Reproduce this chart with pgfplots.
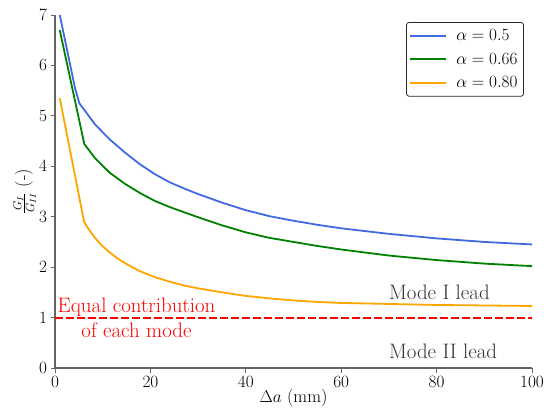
\documentclass[border=0pt]{standalone}
\usepackage{pgfplots}
\pgfplotsset{compat=1.18}
\definecolor{cblue}{RGB}{65,105,225}
\definecolor{cgreen}{RGB}{0,128,0}
\definecolor{corange}{RGB}{255,165,0}
\definecolor{spine}{RGB}{100,100,100}
\definecolor{cred}{RGB}{255,0,0}
\begin{document}
\begin{tikzpicture}
\begin{axis}[
  scale only axis,
  width=477bp, height=353bp,
  at={(0,0)}, anchor=south west,
  xmin=0, xmax=100, ymin=0, ymax=7,
  axis x line*=bottom, axis y line*=left,
  axis line style={spine, line width=1.4pt},
  tick align=outside,
  major tick length=4.5bp,
  tick style={spine, line width=1pt},
  xtick={0,20,40,60,80,100},
  ytick={0,1,2,3,4,5,6,7},
  tick label style={font=\fontsize{17}{19}\selectfont},
  label style={font=\fontsize{18}{20}\selectfont},
  xlabel={$\Delta a$ (mm)},
  ylabel={$\frac{G_I}{G_{II}}$ (-)},
  xlabel style={yshift=5bp},
  ylabel style={yshift=-4bp},
  legend image code/.code={\draw[#1] (0bp,0bp) -- (36bp,0bp);},
  legend style={at={(rel axis cs:0.983,0.98)}, anchor=north east,
    font=\fontsize{17.5}{19}\selectfont, draw=black!85, rounded corners=2.5pt,
    line width=0.8pt, inner xsep=3bp, inner ysep=4bp, row sep=5bp,
    column sep=6bp, nodes={inner sep=3bp}},
  legend cell align=left,
  clip=false,
]
\addplot[draw=cred, line width=2bp, dash pattern=on 7.5bp off 3.5bp, forget plot] table {
x y
0 1
100 1
};
\addplot[cblue, line width=1.8bp] coordinates {
(1,7.0) (4.2,5.55) (5.1,5.25) (8.4,4.83) (11.5,4.53) (14.7,4.27) (17.8,4.04)
(21,3.84) (24.1,3.68) (27.3,3.55) (30,3.45) (35,3.28) (40,3.13) (45,3.01)
(50,2.92) (55,2.84) (60,2.77) (70,2.66) (80,2.57) (90,2.50) (100,2.45)};
\addlegendentry{$\alpha=0.5$}
\addplot[cgreen, line width=1.8bp] coordinates {
(1,6.7) (6.15,4.44) (8.4,4.16) (11.5,3.87) (14.7,3.65) (17.8,3.47) (21,3.31)
(24.1,3.19) (27.3,3.08) (30,2.99) (35,2.83) (40,2.69) (45,2.58) (50,2.50)
(55,2.42) (60,2.35) (70,2.23) (80,2.14) (90,2.07) (100,2.02)};
\addlegendentry{$\alpha=0.66$}
\addplot[corange, line width=1.8bp] coordinates {
(1,5.35) (6.1,2.90) (7,2.76) (8.4,2.58) (9.8,2.43) (11.5,2.29) (13.3,2.16)
(15.4,2.04) (17.8,1.92) (21,1.80) (24.1,1.71) (27.3,1.63) (30,1.58) (35,1.50)
(40,1.43) (45,1.38) (50,1.34) (55,1.31) (60,1.29) (70,1.27) (80,1.25)
(90,1.24) (100,1.23)};
\addlegendentry{$\alpha=0.80$}
\node[text=cred, align=center, font=\fontsize{21}{25}\selectfont] at (axis cs:17.1,1) {Equal contribution\\of each mode};
\node[text=black!80, anchor=west, inner sep=0pt, font=\fontsize{21}{24}\selectfont] at (axis cs:70,1.5) {Mode I lead};
\node[text=black!80, anchor=west, inner sep=0pt, font=\fontsize{21}{24}\selectfont] at (axis cs:70,0.33) {Mode II lead};
\end{axis}
\pgfresetboundingbox
\path (-55bp,-46bp) rectangle (491bp,368bp);
\end{tikzpicture}
\end{document}
